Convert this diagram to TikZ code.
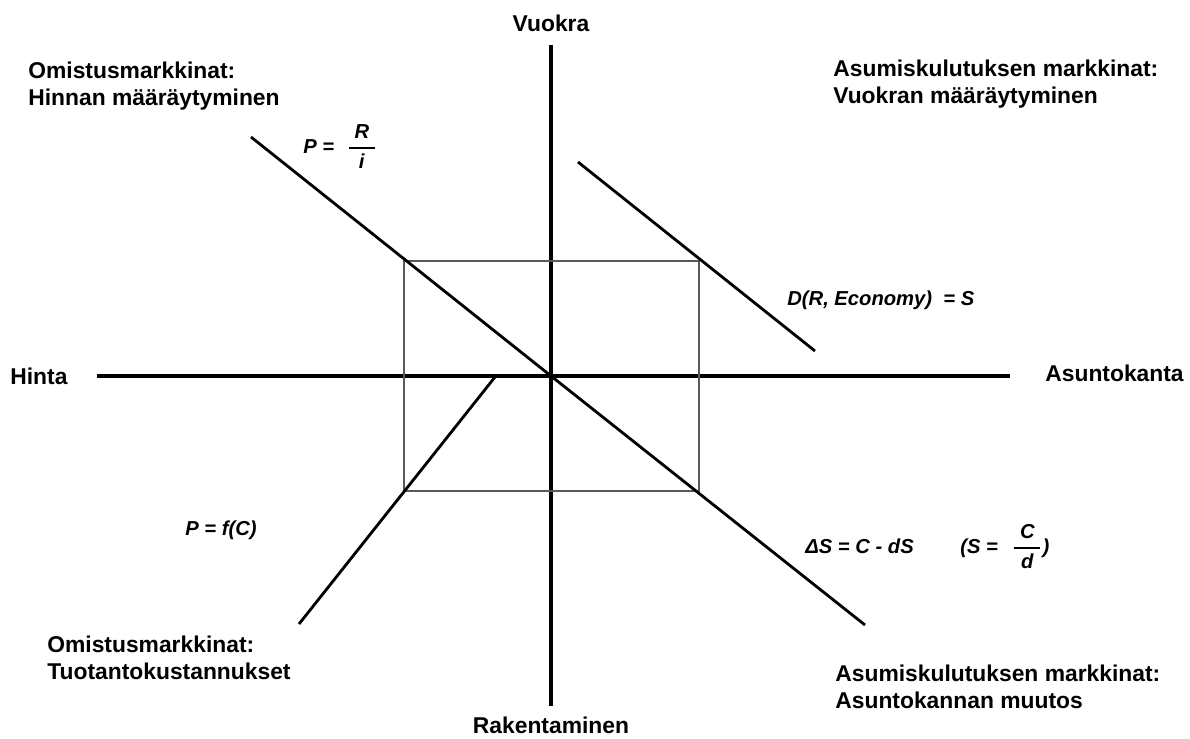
\documentclass[tikz,border=0pt]{standalone}
\usepackage{amsmath}
\usepackage{fontspec}
\setmainfont{Liberation Sans}
\usetikzlibrary{positioning}

\tikzset{
  axis/.style={line width=1.9pt},
  curve/.style={line width=1.6pt},
  box/.style={draw=black!65, line width=1pt},
  lbl/.style={font=\fontsize{13}{15}\selectfont\bfseries, inner sep=0pt},
  eq/.style={font=\fontsize{11.5}{13}\selectfont\bfseries\itshape, inner sep=0pt}
}

\begin{document}
\begin{tikzpicture}[x=0.02cm,y=-0.02cm]
	\useasboundingbox (0,0) rectangle (1190,738);
	% axis ends
	\coordinate (O) at (551,376);
	\coordinate (top) at (551,45);
	\coordinate (bottom) at (551,706);
	\coordinate (left) at (97,376);
	\coordinate (right) at (1010,376);
	\draw[axis] (top) -- (bottom);
	\draw[axis] (left) -- (right);
	% box
	\draw[box] (404,261) rectangle (699,491);
	% curves
	\coordinate (p1) at (251,137);
	\coordinate (p2) at (865,625);
	\coordinate (d1) at (578,162);
	\coordinate (d2) at (815,351);
	\coordinate (c1) at (495,377);
	\coordinate (c2) at (299,624);
	\draw[curve] (p1) -- (O) -- (p2);
	\draw[curve] (d1) -- (d2);
	\draw[curve] (c1) -- (c2);
	% axis labels
	\node[lbl, anchor=base] (vuokra) at (551,31) {Vuokra};
	\node[lbl, anchor=base] (rakentaminen) at (551,733) {Rakentaminen};
	\node[lbl, anchor=base west] (hinta) at (10,384) {Hinta};
	\node[lbl, anchor=base west] (asuntokanta) at (1045,381) {Asuntokanta};
	% quadrant labels
	\node[lbl, anchor=base west] (hinnanA) at (28,78) {Omistusmarkkinat:};
	\node[lbl, anchor=base west] (hinnanB) at (28,105) {Hinnan määräytyminen};
	\node[lbl, anchor=base west] (vuokranA) at (833,76) {Asumiskulutuksen markkinat:};
	\node[lbl, anchor=base west] (vuokranB) at (833,103) {Vuokran määräytyminen};
	\node[lbl, anchor=base west] (tuotantoA) at (47,652) {Omistusmarkkinat:};
	\node[lbl, anchor=base west] (tuotantoB) at (47,679) {Tuotantokustannukset};
	\node[lbl, anchor=base west] (muutosA) at (835,681) {Asumiskulutuksen markkinat:};
	\node[lbl, anchor=base west] (muutosB) at (835,708) {Asuntokannan muutos};
	% equations
	\node[eq, anchor=base west] (eqP) at (303,153) {P =\hspace{7pt}$\genfrac{}{}{1pt}{0}{\;\textit{R}\;}{\textit{i}}$};
	\node[eq, anchor=base west] (eqD) at (787,305) {D(R, Economy)\ \ = S};
	\node[eq, anchor=base west] (eqS) at (805,553) {ΔS = C - dS};
	\node[eq, anchor=base west] (eqSd) at (960,553) {(S =\hspace{8pt}$\genfrac{}{}{1pt}{0}{\;\textit{C}\;}{\textit{d}}$)};
	\node[eq, anchor=base west] (eqF) at (185,535) {P = f(C)};
\end{tikzpicture}
\end{document}
